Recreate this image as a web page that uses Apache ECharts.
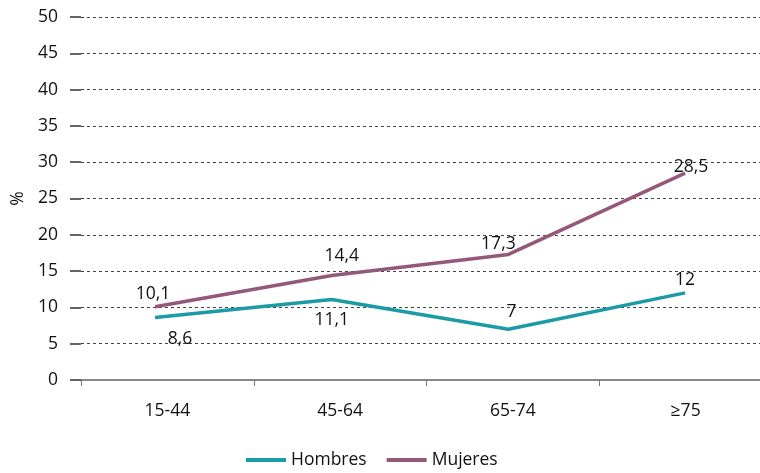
<!DOCTYPE html>
<html>
<head>
<meta charset="utf-8">
<script src="https://cdn.jsdelivr.net/npm/echarts@6/dist/echarts.min.js"></script>
<style>html,body{margin:0;padding:0;background:#fff}#c{width:760px;height:473px}</style>
</head>
<body>
<div id="c"></div>
<script>
const categories = ['15-44', '45-64', '65-74', '≥75'];
const hombres = [8.6, 11.1, 7, 12];
const mujeres = [10.1, 14.4, 17.3, 28.5];
const yTicks = [0, 5, 10, 15, 20, 25, 30, 35, 40, 45, 50];

const chart = echarts.init(document.getElementById('c'));
const font = 'Open Sans';
const fs = 17.5;
const fmt = p => String(p.value[1]).replace('.', ',');
const hOff = [[25, 8], [0, 8], [3, -4], [0, 0]];
const hPos = ['bottom', 'bottom', 'top', 'top'];
const mOff = [[-2, 0], [10, -6], [-10, 3], [6, 7]];
chart.setOption({
  animation: false,
  textStyle: { fontFamily: font },
  grid: { left: 81, width: 691, top: 17, bottom: 93, outerBoundsMode: 'none', containLabel: false },
  legend: {
    bottom: -1, left: 241, itemGap: 20, itemWidth: 40, itemHeight: 4,
    icon: 'rect',
    textStyle: { fontSize: fs, color: '#111', fontFamily: font },
    data: ['Hombres', 'Mujeres']
  },
  xAxis: [{
    type: 'category', data: categories, boundaryGap: true,
    axisLine: { lineStyle: { color: '#888', width: 2 } },
    axisTick: { show: true, length: 6, lineStyle: { color: '#777', width: 1 } },
    axisLabel: { fontSize: fs, color: '#111', margin: 22 }
  }, {
    type: 'value', min: -0.419, max: 3.492, show: false
  }],
  yAxis: {
    type: 'value', min: yTicks[0], max: yTicks[yTicks.length - 1], interval: 5,
    name: '%', nameLocation: 'middle', nameGap: 54, nameRotate: 90,
    nameTextStyle: { fontSize: fs, color: '#111' },
    axisLine: { show: false, onZero: false },
    axisTick: { show: true, length: 11, lineStyle: { color: '#333', width: 1.5 } },
    axisLabel: { fontSize: fs, color: '#111', margin: 23 },
    splitLine: { lineStyle: { type: [3, 3], color: '#444', width: 1 } }
  },
  series: [{
    name: 'Hombres', type: 'line', xAxisIndex: 1,
    symbol: 'circle', symbolSize: 0.1, showSymbol: true,
    lineStyle: { width: 3.5, color: '#1a9ba5' }, itemStyle: { color: '#1a9ba5' },
    label: { show: true, fontSize: fs, color: '#111', formatter: fmt, distance: 4 },
    data: hombres.map((v, i) => ({ value: [i, v], label: { position: hPos[i], offset: hOff[i] } }))
  }, {
    name: 'Mujeres', type: 'line', xAxisIndex: 1,
    symbol: 'circle', symbolSize: 0.1, showSymbol: true,
    lineStyle: { width: 3.5, color: '#94587a' }, itemStyle: { color: '#94587a' },
    label: { show: true, fontSize: fs, color: '#111', formatter: fmt, position: 'top', distance: 4 },
    data: mujeres.map((v, i) => ({ value: [i, v], label: { offset: mOff[i] } }))
  }]
});
</script>
</body>
</html>
